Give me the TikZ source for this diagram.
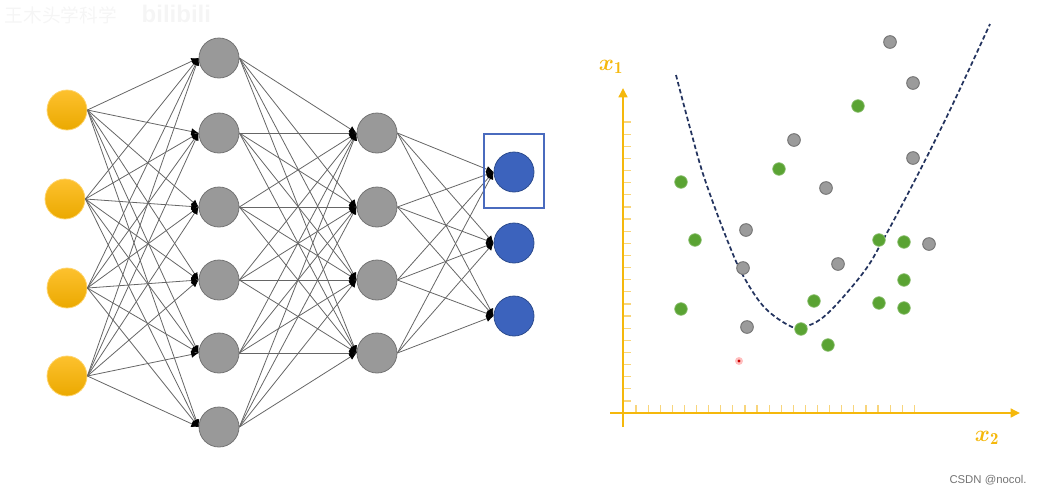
\documentclass[tikz,border=0pt]{standalone}
\usepackage{fontspec}
\usepackage{amsmath,bm}
\usetikzlibrary{arrows.meta}
\newfontfamily\cjkfont{Noto Sans CJK SC}
\newfontfamily\wmfont{Liberation Sans}
\definecolor{yelA}{HTML}{FDC12E}
\definecolor{yelB}{HTML}{EBA900}
\definecolor{grayfill}{HTML}{999999}
\definecolor{grayline}{HTML}{747474}
\definecolor{bluefill}{HTML}{3C63BD}
\definecolor{blueline}{HTML}{2D4C8E}
\definecolor{boxblue}{HTML}{4A6BBE}
\definecolor{axiscol}{HTML}{F5B80C}
\definecolor{tickcol}{HTML}{F8D57C}
\definecolor{curvecol}{HTML}{24345F}
\definecolor{dotgreen}{HTML}{5AA333}
\definecolor{dotgray}{HTML}{9B9B9B}
\definecolor{edgecol}{HTML}{666666}
\begin{document}
\begin{tikzpicture}[x=0.75pt,y=-0.75pt,
  neuron/.style={circle,inner sep=0pt,minimum size=30pt,line width=0.6pt},
  inp/.style={neuron,draw=yelA!70!white,top color=yelA,bottom color=yelB},
  hid/.style={neuron,draw=grayline,fill=grayfill},
  outn/.style={neuron,draw=blueline,fill=bluefill},
  edge/.style={draw=edgecol,line width=0.6pt,-{Latex[length=5.5pt,width=5pt,black]}},
  axis/.style={draw=axiscol,line width=2.2pt},
  tickm/.style={draw=tickcol,line width=0.9pt},
  gdot/.style={circle,inner sep=0pt,minimum size=9.5pt,fill=dotgray,draw=grayline,line width=0.7pt},
  ndot/.style={circle,inner sep=0pt,minimum size=9.5pt,fill=dotgreen,draw=dotgreen!70!white,line width=0.5pt},
  axlabel/.style={text=axiscol,font=\fontsize{18}{21}\selectfont}
]
\useasboundingbox (0,0) rectangle (1039,494);
% watermark
\node[anchor=west,text=black!4,font=\cjkfont\fontsize{14}{16}\selectfont] (wm1) at (0,15) {王木头学科学};
\node[anchor=west,text=black!4,font=\wmfont\bfseries\fontsize{18}{20}\selectfont] (wm2) at (137,14) {bilibili};
% input layer
\node[inp] (i1) at (67,110) {};
\node[inp] (i2) at (65,199) {};
\node[inp] (i3) at (67,288) {};
\node[inp] (i4) at (67,376) {};
% hidden 1
\foreach \y [count=\k] in {58,133,207,280,353,427}
  \node[hid] (h\k) at (219,\y) {};
% hidden 2
\foreach \y [count=\k] in {133,207,280,353}
  \node[hid] (g\k) at (377,\y) {};
% output
\foreach \y [count=\k] in {172,243,316}
  \node[outn] (o\k) at (514,\y) {};
% connections
\foreach \a in {1,...,4}
  \foreach \b in {1,...,6}
    \draw[edge] (i\a.east) -- (h\b.west);
\foreach \a in {1,...,6}
  \foreach \b in {1,...,4}
    \draw[edge] (h\a.east) -- (g\b.west);
\foreach \a in {1,...,4}
  \foreach \b in {1,...,3}
    \draw[edge] (g\a.east) -- (o\b.west);
% box around first output
\draw[draw=boxblue,line width=1.5pt] (484,134) rectangle (544,208);
% axes
\foreach \k in {0,...,23}
  \draw[tickm] (624,{401-12.13*\k}) -- ++(7,0);
\foreach \k in {0,...,23}
  \draw[tickm] ({636+12.1*\k},412) -- ++(0,-7);
\coordinate (xs) at (610,413);
\coordinate (xe) at (1020,413);
\coordinate (ys) at (623,427);
\coordinate (ye) at (623,88);
\draw[axis,-{Triangle[length=7pt,width=6.5pt]}] (xs) -- (xe);
\draw[axis,-{Triangle[length=7pt,width=6.5pt]}] (ys) -- (ye);
\node[axlabel] (lx1) at (611,67) {$\bm{x}_{\mathbf{1}}$};
\node[axlabel] (lx2) at (987,438) {$\bm{x}_{\mathbf{2}}$};
% decision curve
\draw[curvecol,line width=1.3pt,dash pattern=on 3.4pt off 2pt] plot[smooth,tension=0.6] coordinates {
 (676,75) (690,128) (705,180) (730,247) (745,279) (765,308) (790,326) (804,327) (827,314) (863,273) (883,240) (915,180) (950,110) (990,24)};
% gray dots
\foreach \p [count=\k] in {(890,42),(913,83),(794,140),(913,158),(826,188),(746,230),(743,268),(838,264),(929,244),(747,327)}
  \node[gdot] (gd\k) at \p {};
% green dots
\foreach \p [count=\k] in {(858,106),(779,169),(681,182),(695,240),(879,240),(904,242),(904,280),(681,309),(814,301),(879,303),(904,308),(801,329),(828,345)}
  \node[ndot] (nd\k) at \p {};
% red dot
\node[circle,inner sep=0pt,minimum size=6pt,fill=red!25] (rd) at (739,361) {};
\node[circle,inner sep=0pt,minimum size=2.5pt,fill=red!80!black] (rdc) at (739,361) {};
% credit
\node[text=black!55,font=\wmfont\fontsize{8.5}{10}\selectfont] (cr) at (988,480) {CSDN @nocol.};
\end{tikzpicture}
\end{document}
